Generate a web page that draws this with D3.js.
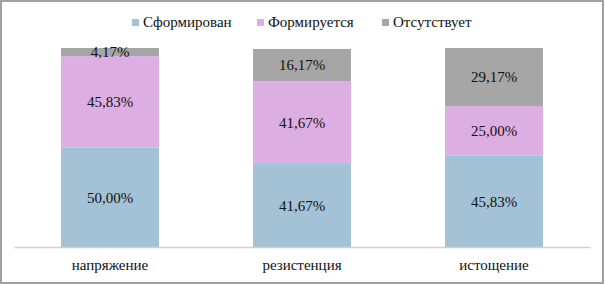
<!DOCTYPE html>
<html>
<head>
<meta charset="utf-8">
<script src="https://cdn.jsdelivr.net/npm/d3@7"></script>
</head>
<body style="margin:0; background:#fff">
<div id="chart"></div>
<script>
// data
const categories = ["напряжение", "резистенция", "истощение"];
const seriesNames = ["Сформирован", "Формируется", "Отсутствует"];
const formed = [50.00, 41.67, 45.83];
const forming = [45.83, 41.67, 25.00];
const absent = [4.17, 16.17, 29.17];

const width = 605;
const height = 284;
const margin = { top: 48, right: 15, bottom: 37, left: 14 };
const serif = "'Liberation Serif'";
const textColor = "#111";

const colors = d3.scaleOrdinal()
  .domain(seriesNames)
  .range(["#a3c2d6", "#ddaee2", "#a6a6a6"]);

// table for the stack
const rows = categories.map((c, i) => ({
  cat: c,
  "Сформирован": formed[i],
  "Формируется": forming[i],
  "Отсутствует": absent[i]
}));

const stacked = d3.stack().keys(seriesNames)(rows);

const svg = d3.select("#chart")
  .append("svg")
  .attr("width", width)
  .attr("height", height);

// outer frame
svg.append("rect")
  .attr("x", 1).attr("y", 1)
  .attr("width", width - 3).attr("height", height - 2)
  .attr("fill", "#fff")
  .attr("stroke", "#a0a0a0")
  .attr("stroke-width", 2);

const xScale = d3.scaleBand()
  .domain(categories)
  .range([margin.left, width - margin.right])
  .paddingInner(0.49)
  .paddingOuter(0.245);

const yScale = d3.scaleLinear()
  .domain([0, 100])
  .range([height - margin.bottom, margin.top]);

const groups = svg.selectAll("g.series")
  .data(stacked)
  .join("g")
  .attr("class", "series")
  .attr("fill", d => colors(d.key));

groups.selectAll("rect")
  .data(d => d)
  .join("rect")
  .attr("x", d => xScale(d.data.cat))
  .attr("y", d => yScale(d[1]))
  .attr("width", xScale.bandwidth())
  .attr("height", d => yScale(d[0]) - yScale(d[1]));

// value labels
const fmt = v => v.toFixed(2).replace(".", ",") + "%";
svg.selectAll("g.labels")
  .data(stacked)
  .join("g")
  .attr("class", "labels")
  .selectAll("text")
  .data(d => d)
  .join("text")
  .attr("x", d => xScale(d.data.cat) + xScale.bandwidth() / 2)
  .attr("y", d => (yScale(d[0]) + yScale(d[1])) / 2)
  .attr("dy", "0.35em")
  .attr("text-anchor", "middle")
  .style("font-family", serif)
  .style("font-size", "15px")
  .style("fill", textColor)
  .text(d => fmt(d[1] - d[0]));

// x axis
const xAxis = d3.axisBottom(xScale).tickSize(0).tickPadding(12);
const xAxisGroup = svg.append("g")
  .attr("transform", `translate(0, ${height - margin.bottom})`)
  .call(xAxis);
xAxisGroup.select(".domain").attr("stroke", "#d0d0d0").attr("stroke-width", 1.5);
xAxisGroup.selectAll("text")
  .style("font-family", serif)
  .style("font-size", "15px")
  .style("fill", textColor);

// legend
const legendX = [132, 257, 382];
const legend = svg.selectAll("g.legend")
  .data(seriesNames)
  .join("g")
  .attr("class", "legend")
  .attr("transform", (d, i) => `translate(${legendX[i]}, 22)`);

legend.append("rect")
  .attr("x", 0).attr("y", -3)
  .attr("width", 7).attr("height", 7)
  .attr("fill", d => colors(d));

legend.append("text")
  .attr("x", 11)
  .attr("y", -0.5)
  .attr("dy", "0.35em")
  .style("font-family", serif)
  .style("font-size", "15px")
  .style("fill", textColor)
  .text(d => d);
</script>
</body>
</html>
